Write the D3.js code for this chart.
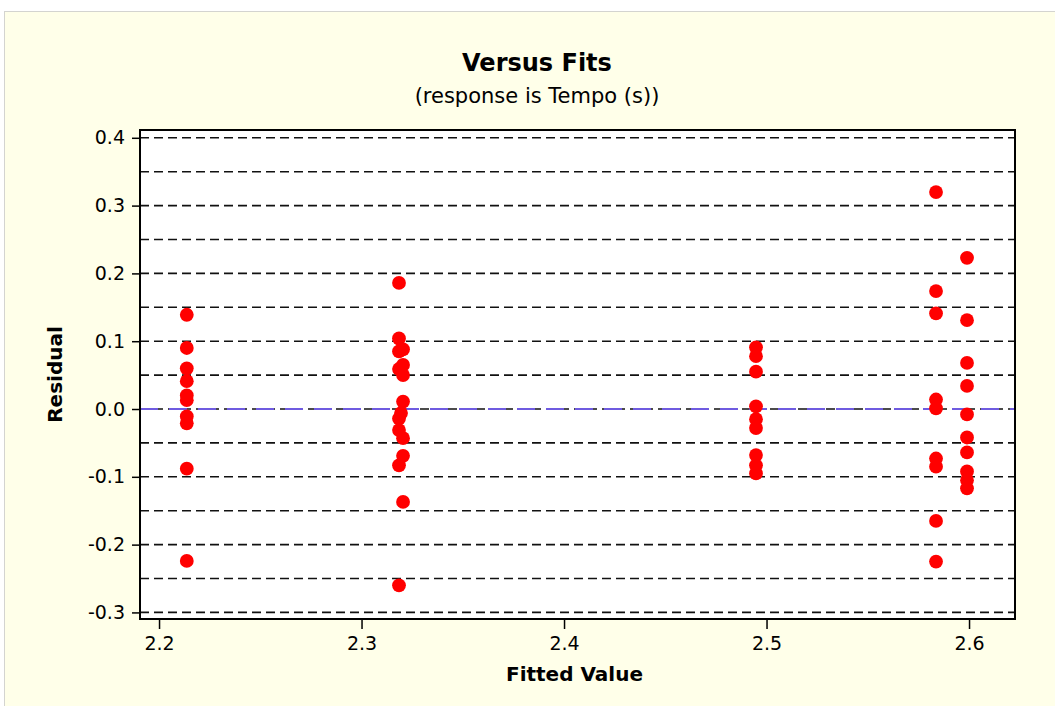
<!DOCTYPE html>
<html>
<head>
<meta charset="utf-8">
<script src="https://cdn.jsdelivr.net/npm/d3@7"></script>
<style>
  body { margin: 0; background: #fff; }
  svg { display: block; font-family: "DejaVu Sans", Verdana, sans-serif; }
</style>
</head>
<body>
<svg id="chart" width="1055" height="706"></svg>
<script>
// residual vs fitted value
const fits = [
  2.2137, 2.2137, 2.2137, 2.2137, 2.2137, 2.2137, 2.2137, 2.2137, 2.2137, 2.2137,
  2.3185, 2.3185, 2.3205, 2.3185, 2.3205, 2.3185, 2.3205, 2.3205, 2.3195, 2.3185,
  2.3185, 2.3205, 2.3205, 2.3185, 2.3205, 2.3185,
  2.4948, 2.4948, 2.4948, 2.4948, 2.4948, 2.4948, 2.4948, 2.4948, 2.4948,
  2.5837, 2.5837, 2.5837, 2.5837, 2.5837, 2.5837, 2.5837, 2.5837, 2.5837,
  2.599, 2.599, 2.599, 2.599, 2.599, 2.599, 2.599, 2.599, 2.599, 2.599
];
const residuals = [
  0.139, 0.090, 0.060, 0.041, 0.020, 0.013, -0.011, -0.021, -0.088, -0.224,
  0.186, 0.104, 0.088, 0.085, 0.065, 0.059, 0.050, 0.011, -0.006, -0.014,
  -0.031, -0.043, -0.069, -0.083, -0.137, -0.260,
  0.091, 0.078, 0.055, 0.004, -0.015, -0.028, -0.068, -0.083, -0.095,
  0.320, 0.174, 0.141, 0.014, 0.001, -0.073, -0.085, -0.165, -0.225,
  0.223, 0.131, 0.068, 0.034, -0.008, -0.042, -0.064, -0.092, -0.105, -0.117
];
const xTicks = [2.2, 2.3, 2.4, 2.5, 2.6];
const yTicks = [-0.3, -0.2, -0.1, 0.0, 0.1, 0.2, 0.3, 0.4];
const gridLevels = [-0.3, -0.25, -0.2, -0.15, -0.1, -0.05, 0, 0.05, 0.1, 0.15, 0.2, 0.25, 0.3, 0.35, 0.4];

const svg = d3.select("#chart");
const plotL = 140, plotR = 1015, plotT = 130, plotB = 619;

svg.append("rect")
  .attr("x", 4.5).attr("y", 11.5)
  .attr("width", 1060).attr("height", 700)
  .attr("fill", "#ffffe9")
  .attr("stroke", "#d4d4d0");

const x = d3.scaleLinear().domain([2.1906, 2.6227]).range([plotL, plotR]);
const y = d3.scaleLinear().domain([-0.3097, 0.4115]).range([plotB, plotT]);

svg.append("rect")
  .attr("x", plotL).attr("y", plotT)
  .attr("width", plotR - plotL).attr("height", plotB - plotT)
  .attr("fill", "#fff");

// dashed reference lines
svg.append("g")
  .selectAll("line")
  .data(gridLevels)
  .enter()
  .append("line")
  .attr("x1", plotL).attr("x2", plotR)
  .attr("y1", (d) => y(d)).attr("y2", (d) => y(d))
  .attr("stroke", "#111")
  .attr("stroke-width", 1.6)
  .attr("stroke-dasharray", "9,5");

svg.append("line")
  .attr("x1", plotL).attr("x2", plotR)
  .attr("y1", y(0)).attr("y2", y(0))
  .attr("stroke", "#6f5be0")
  .attr("stroke-width", 2)
  .attr("stroke-dasharray", "18,11");

// axes (plain hyphen for negatives, like the original)
const fmt = (d) => d.toFixed(1);
const xAxis = svg.append("g")
  .attr("transform", `translate(0,${plotB})`)
  .call(d3.axisBottom(x).tickValues(xTicks).tickFormat(fmt).tickSize(10).tickPadding(8));
const yAxis = svg.append("g")
  .attr("transform", `translate(${plotL},0)`)
  .call(d3.axisLeft(y).tickValues(yTicks).tickFormat(fmt).tickSize(8).tickPadding(7));

[xAxis, yAxis].forEach((a) => {
  a.select(".domain").remove();
  a.selectAll(".tick line").attr("stroke", "#000").attr("stroke-width", 1.5);
  a.selectAll(".tick text").attr("fill", "#000").style("font-size", "19px")
    .style("font-family", "'DejaVu Sans', sans-serif");
});

svg.append("rect")
  .attr("x", plotL).attr("y", plotT)
  .attr("width", plotR - plotL).attr("height", plotB - plotT)
  .attr("fill", "none")
  .attr("stroke", "#000")
  .attr("stroke-width", 2);

// points
svg.append("g")
  .selectAll("circle")
  .data(residuals)
  .enter()
  .append("circle")
  .attr("cx", (d, i) => x(fits[i]))
  .attr("cy", (d) => y(d))
  .attr("r", 6.9)
  .attr("fill", "#ff0000");

// titles
svg.append("text")
  .attr("x", 537).attr("y", 71)
  .attr("text-anchor", "middle")
  .style("font-size", "24px").style("font-weight", "bold")
  .text("Versus Fits");

svg.append("text")
  .attr("x", 537).attr("y", 103)
  .attr("text-anchor", "middle")
  .style("font-size", "21px")
  .text("(response is Tempo (s))");

svg.append("text")
  .attr("x", (plotL + plotR) / 2 - 3).attr("y", 681)
  .attr("text-anchor", "middle")
  .style("font-size", "20px").style("font-weight", "bold")
  .text("Fitted Value");

svg.append("text")
  .attr("transform", `translate(62,${(plotT + plotB) / 2}) rotate(-90)`)
  .attr("text-anchor", "middle")
  .style("font-size", "20px").style("font-weight", "bold")
  .text("Residual");
</script>
</body>
</html>
